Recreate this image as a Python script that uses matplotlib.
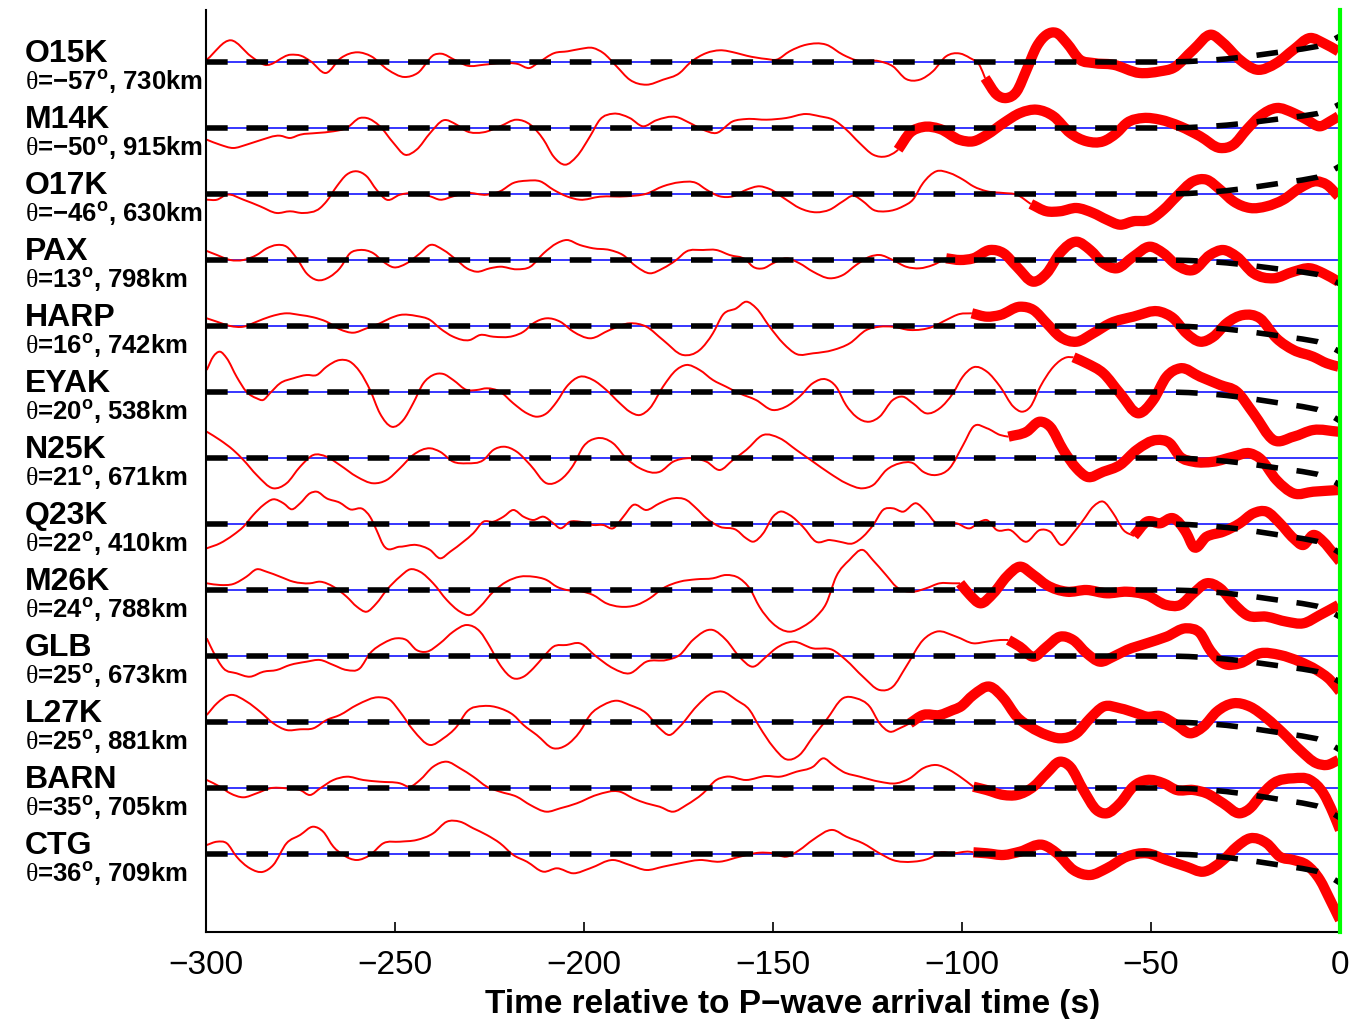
import numpy as np
import matplotlib
matplotlib.use("Agg")
import matplotlib.pyplot as plt
from matplotlib.path import Path
from matplotlib.patches import PathPatch

plt.rcParams['font.family'] = ['Liberation Sans', 'DejaVu Sans']
plt.rcParams['mathtext.fontset'] = 'custom'
plt.rcParams['mathtext.rm'] = 'Liberation Serif'
plt.rcParams['mathtext.bf'] = 'Liberation Sans:bold'
plt.rcParams['lines.scale_dashes'] = False

stations = ['O15K', 'M14K', 'O17K', 'PAX', 'HARP', 'EYAK', 'N25K',
            'Q23K', 'M26K', 'GLB', 'L27K', 'BARN', 'CTG']
theta = [-57, -50, -46, 13, 16, 20, 21, 22, 24, 25, 25, 35, 36]
dist_km = [730, 915, 630, 798, 742, 538, 671, 410, 788, 673, 881, 705, 709]

# time (s) where the thick (window) part of each trace begins
thick_start = [-93.9, -116.9, -81.8, -104.2, -97.4, -70.5, -87.7,
               -54.5, -100.5, -87.7, -113.8, -97.0, -97.0]

# synthetic (dashed) curve: common shape and end value per station
model_t = [-300, -45, -40, -35, -30, -25, -20, -15, -10, -6, -3, 0]
model_shape = [0, 0, 0.02, 0.06, 0.12, 0.2, 0.3, 0.4, 0.5, 0.6, 0.76, 1.0]
model_end = [26, 24, 28, -24, -26, -29, -27, -29, -27, -26, -28, -30, -29]

# waveforms: time (s) and amplitude (arbitrary units)
O15K_t = [-299.8, -293.4, -288.1, -284.6, -277.6, -274.9, -272.3, -268.3, -264.3, -259.9,
          -256.3, -251.9, -247.5, -244.0, -239.6, -237.8, -234.3, -230.8, -226.4, -221.9,
          -217.5, -214.4, -212.2, -207.8, -204.3, -201.1, -197.6, -194.9, -191.4, -187.9,
          -183.5, -179.1, -174.7, -172.0, -167.6, -164.1, -159.7, -157.0, -151.7, -149.1,
          -145.6, -141.2, -135.9, -131.5, -128.0, -121.8, -118.3, -114.8, -111.2, -107.7,
          -104.2, -100.6, -97.9, -95.2, -93.9, -90.8, -88.2, -85.5, -82.9, -80.2,
          -77.6, -75.0, -72.3, -68.8, -65.3, -60.0, -53.0, -47.6, -44.1, -38.8,
          -34.0, -30.9, -26.5, -22.0, -16.8, -12.3, -7.9, -4.4, -0.4]
O15K_a = [2.3, 21.7, 5.7, -2.7, 7.3, 6.3, 0.7, -11, 4, 9.7,
          5.7, -7.7, -15, -11, 7.3, 8.3, 2.3, -3.7, -2.7, -1,
          -2, -6, -1, 9, 10.7, 13, 14, 9, -4.3, -17.7,
          -22.7, -17.7, -11, -1, 9, 11.7, 9, 6.3, 3, 2.3,
          10.7, 17.3, 17.3, 7.3, 1.7, 0.7, -4.3, -17, -17.7, -9.3,
          5.7, 8.5, 4, -4.3, -16, -32.7, -36, -29.3, -7.7, 15.7,
          27.3, 29, 19, 2.3, -1, -2.7, -11, -9.3, -6, 12.3,
          27.3, 19, 2.3, -7.7, -1, 12.3, 24, 19, 10.7]

M14K_t = [-299.8, -296.3, -292.8, -289.3, -285.7, -280.4, -277.8, -275.1, -270.7, -266.3,
          -262.8, -259.3, -257.5, -254.0, -250.4, -247.4, -244.3, -240.7, -237.2, -233.7,
          -231.0, -226.6, -222.2, -217.8, -214.2, -210.7, -208.1, -205.0, -201.9, -198.4,
          -195.8, -192.3, -187.9, -184.4, -180.9, -175.6, -172.0, -168.5, -165.0, -160.6,
          -157.0, -151.7, -146.5, -141.2, -137.6, -134.1, -130.6, -127.1, -123.5, -120.0,
          -117.4, -116.9, -113.8, -110.3, -105.8, -100.5, -97.0, -93.4, -89.0, -84.6,
          -80.2, -75.8, -71.4, -67.0, -62.6, -59.1, -56.4, -52.0, -47.6, -42.3,
          -37.0, -31.7, -28.2, -24.7, -21.2, -16.8, -12.3, -8.8, -5.3, -2.6, -0.4]
M14K_a = [-11.7, -16.7, -20, -16.7, -12.3, -7.7, -10, -6.7, -5, -3.3,
          0, 10, 10, 1.7, -15, -26.7, -21.7, -5, 7.7, 3.3,
          -3.3, -4.3, 1.7, 8.3, 3.3, -11.7, -28.3, -36.7, -28.3, -8.3,
          8.3, 14.3, 10, 1.7, 7.7, 11, 5, -1.7, -5, 6.7,
          9, 8.3, 10, 14, 11.7, 8.3, -1.7, -15, -26.7, -28.3,
          -23.3, -21.7, -5, 1, -1, -12, -13.3, -6.7, 5, 15,
          18.3, 11.7, -5, -13.3, -13.3, -5, 5, 10, 8.3, 1.7,
          -8.3, -20, -16.7, -1.7, 11.7, 20, 15, 8.3, 1.7, 6.7, 11.7]

O17K_t = [-299.8, -297.1, -294.5, -290.1, -285.7, -281.3, -277.8, -274.3, -269.8, -268.1,
          -265.4, -262.8, -260.1, -257.5, -254.9, -252.2, -248.7, -245.2, -240.7, -238.1,
          -234.6, -231.0, -225.7, -222.2, -218.7, -215.1, -211.6, -208.1, -204.6, -201.1,
          -195.8, -188.8, -183.5, -179.1, -174.7, -170.3, -167.6, -164.1, -160.6, -157.0,
          -153.5, -150.9, -146.5, -143.0, -138.5, -135.0, -131.5, -128.8, -126.2, -123.5,
          -120.0, -115.6, -113.0, -110.3, -106.8, -103.3, -99.7, -97.0, -93.4, -89.0,
          -85.5, -81.8, -77.6, -74.1, -69.7, -65.3, -61.7, -58.2, -54.7, -50.3,
          -46.7, -43.2, -38.8, -35.3, -31.7, -28.2, -23.8, -19.4, -15.0, -10.6,
          -6.2, -3.5, -0.4]
O17K_a = [-5.7, -5.7, -0.7, -5.7, -12.3, -19, -17.3, -19, -14, -7.3,
          7.7, 19.3, 22.7, 17.7, 4.3, -5.7, -0.7, 1, -2.3, -5.7,
          -2.3, 1, -0.7, 2.7, 11, 13.3, 12.7, 4.3, -2.3, -5.7,
          -2.7, -2.3, 0.3, 7.7, 11.7, 11, 4.3, -2.3, -2.3, 4.3,
          7.7, 5, -5.7, -14, -18.3, -15.7, -7.3, -1.7, -7.3, -15.7,
          -17.3, -12.3, -5.7, 11, 22.7, 21, 14.3, 7.7, 2.7, 1,
          -0.7, -10, -17.3, -17.3, -14, -19, -25.7, -30.7, -27.3, -25.7,
          -15.7, -2.3, 12.7, 14.3, 4.3, -7.3, -14, -12.3, -5.7, 6,
          12.7, 9.3, -2.3]

PAX_t = [-299.8, -297.1, -293.6, -290.1, -286.6, -283.9, -281.3, -278.7, -276.0, -273.4,
         -270.7, -267.2, -264.6, -261.9, -259.3, -255.7, -253.1, -250.4, -246.9, -243.4,
         -240.7, -237.2, -233.7, -231.0, -228.4, -224.9, -222.2, -217.8, -214.2, -210.7,
         -207.2, -204.6, -201.1, -197.6, -193.2, -189.7, -186.1, -182.6, -179.1, -175.6,
         -173.0, -168.5, -165.0, -161.5, -157.1, -155.3, -152.6, -150.0, -146.5, -143.0,
         -139.4, -135.0, -131.5, -128.0, -124.4, -121.8, -118.3, -114.8, -111.2, -107.7,
         -104.2, -100.5, -97.0, -92.6, -89.0, -85.5, -81.1, -77.6, -74.1, -69.7,
         -66.1, -62.6, -59.1, -54.7, -50.3, -46.7, -43.2, -38.8, -34.4, -30.9,
         -27.3, -22.9, -17.6, -12.3, -7.9, -4.4, -0.4]
PAX_a = [9, 5, 0, 0, 5, 11.7, 15, 13.3, 1.7, -13.3,
         -20, -16.7, -8.3, 6.7, 10, 6.7, -1.7, -7.3, -3.3, 6.7,
         15, 10, 0, -8.3, -11.7, -8.3, -6.7, -9.3, -6.7, 6.7,
         16.7, 20, 15, 11.7, 10, 5, -6.7, -13.3, -8.3, 0,
         8.3, 10, 10, 5, 0, -6.7, -8.3, -3.3, 1.7, -3.3,
         -11.7, -18.3, -15, -5, 3.3, 5, 0, -6.7, -8.3, -5,
         1.7, 0, 1.7, 10, 6.7, -6.7, -21.7, -13.3, 6.7, 18.3,
         10, -3.3, -8.3, 3.3, 13.3, 6.7, -5, -10, 5, 10,
         3.3, -13.3, -18.3, -11.7, -8.3, -13.3, -21.7]

HARP_t = [-299.8, -297.1, -293.6, -290.1, -286.6, -283.1, -278.7, -275.1, -271.6, -268.1,
          -264.6, -261.0, -257.5, -254.0, -251.3, -248.7, -244.3, -240.7, -238.1, -234.6,
          -230.2, -227.5, -224.0, -218.7, -216.0, -213.4, -209.9, -206.3, -202.8, -198.4,
          -193.2, -187.9, -183.5, -179.1, -173.8, -169.4, -165.9, -163.3, -159.7, -157.1,
          -154.4, -150.9, -147.3, -143.8, -139.4, -134.1, -129.7, -125.3, -121.8, -118.3,
          -113.8, -107.7, -104.2, -100.6, -97.4, -93.4, -89.9, -84.6, -81.1, -77.6,
          -74.1, -69.7, -65.3, -60.8, -54.7, -47.6, -44.1, -40.6, -37.0, -33.5,
          -30.0, -25.6, -21.2, -16.8, -12.3, -7.1, -3.5, -0.4]
HARP_a = [7.7, 4.3, 0, -0.7, 4.3, 9.3, 12.7, 11, 8.7, 4.3,
          -3.3, -6.7, -2.3, 2.7, 7.7, 11, 10, 6, -2.3, -10.7,
          -14, -9, -10.7, -10, -5.7, 2.7, 7.7, 4.3, -5.7, -12.3,
          -4, 2.7, -0.7, -14, -29, -24, -7.3, 11, 17.7, 24.3,
          17.7, -0.7, -17.3, -28, -27.3, -24, -17.3, -4, -0.7, -0.7,
          -4, -0.7, 6, 12, 12.7, 9.3, 11, 19.3, 16, 2.7,
          -10.7, -15.7, -7.3, 2.7, 9.3, 14.3, 7.7, -7.3, -15.7, -10.7,
          2.7, 11, 7.7, -12.3, -24, -30.7, -37.3, -40.7]

EYAK_t = [-299.8, -298.1, -296.3, -294.5, -291.9, -289.3, -286.6, -284.9, -283.1, -280.4,
          -276.9, -273.4, -270.7, -268.1, -264.6, -261.9, -259.3, -256.6, -254.0, -250.9,
          -247.8, -245.2, -242.5, -239.9, -237.2, -234.6, -231.0, -228.4, -225.7, -222.2,
          -218.7, -215.1, -212.5, -209.9, -207.2, -204.6, -201.1, -197.6, -194.1, -190.5,
          -187.9, -185.2, -182.6, -179.1, -175.6, -173.0, -169.4, -165.9, -162.4, -158.9,
          -154.5, -150.1, -146.6, -143.0, -139.5, -136.0, -133.3, -130.7, -128.0, -124.5,
          -121.8, -118.3, -115.6, -113.0, -109.5, -105.9, -102.4, -99.8, -97.0, -93.4,
          -89.9, -86.4, -84.1, -81.9, -79.3, -75.8, -72.3, -70.5, -67.0, -62.6,
          -58.2, -53.3, -49.4, -45.9, -42.3, -37.0, -31.7, -27.3, -22.9, -17.6,
          -12.3, -7.1, -0.4]
EYAK_a = [22, 35.3, 40.3, 33.7, 15.3, 0.3, -6.3, -8, -1.3, 8.7,
          13.7, 17, 17, 25.3, 32, 30.3, 20.3, 2, -21.3, -34.7,
          -28, -11.3, 8.7, 17, 18, 12, 2, 2, 3.7, 0.3,
          -11.3, -21.3, -24.7, -21.3, -9.7, 5.3, 15.3, 12, 2, -11.3,
          -19.7, -23, -16.3, 5.3, 22, 27, 22, 12, 5.3, -1.3,
          -8, -18, -14.7, -4.7, 8.7, 12.7, 5.3, -13, -24.7, -29.7,
          -24.7, -8, -4.7, -11.3, -21.3, -16.3, -1.3, 15.3, 24.7, 20.3,
          5.3, -14.7, -19.7, -14.7, 5.3, 25.3, 34.7, 34.7, 28.7, 18.7,
          -1.3, -21.3, -8, 15.3, 23.7, 15.3, 7, 0.3, -21.3, -48,
          -44.7, -38, -39.7]

N25K_t = [-299.8, -296.3, -292.8, -290.1, -286.6, -282.2, -278.7, -275.1, -271.6, -268.1,
          -264.6, -260.1, -255.7, -252.2, -248.7, -245.2, -240.7, -238.1, -234.6, -231.0,
          -226.6, -224.0, -221.3, -217.8, -214.2, -209.9, -206.3, -202.8, -200.2, -196.7,
          -192.3, -188.8, -185.2, -179.9, -176.4, -172.9, -167.6, -164.1, -160.6, -157.1,
          -152.6, -148.2, -143.8, -139.4, -135.0, -130.6, -126.2, -123.5, -120.0, -116.4,
          -112.9, -110.3, -106.8, -103.3, -99.7, -97.0, -93.4, -89.9, -87.7, -82.9,
          -79.4, -76.7, -73.2, -69.7, -67.0, -62.6, -58.2, -53.8, -48.5, -45.0,
          -42.3, -38.8, -33.5, -28.2, -23.8, -21.2, -16.8, -12.3, -7.1, -0.4]
N25K_a = [26.3, 18, 8, -2, -17, -30.3, -25.3, -8.7, 3, 1.3,
          -7, -18.7, -25.3, -22, -10.3, 3, 9.7, 6.3, -3.7, -5.3,
          -2, 8, 11.3, 6.3, -7, -25.3, -22, -7, 11.3, 19.7,
          14.7, -0.3, -10.3, -13.7, -3.7, -0.3, -3.7, -12, -2, 8,
          23, 19.7, 8, -3.7, -15.3, -25.3, -30.3, -27, -12, -5.3,
          -5.3, -13.7, -17, -10.3, 13, 31.3, 29.7, 23, 21.3, 26.3,
          36.3, 31.3, 8, -10.3, -18.7, -13.7, -7, 8, 18, 14.7,
          1.3, -3.7, -3.7, 1.3, 4.7, -0.3, -22, -35.3, -33.7, -32]

Q23K_t = [-299.8, -296.3, -292.8, -290.1, -287.5, -284.8, -282.2, -279.5, -277.3, -275.1,
          -272.5, -270.7, -268.1, -264.6, -261.9, -258.4, -256.6, -254.9, -253.1, -248.7,
          -244.3, -240.7, -238.1, -235.4, -231.9, -229.3, -226.6, -224.0, -221.3, -218.7,
          -216.0, -213.4, -210.7, -208.1, -206.3, -203.7, -201.1, -197.6, -194.9, -192.3,
          -189.6, -187.0, -183.5, -180.0, -176.4, -172.9, -170.3, -167.6, -164.1, -159.7,
          -157.1, -155.3, -152.6, -150.0, -148.2, -145.6, -142.1, -138.6, -135.0, -132.4,
          -128.8, -126.2, -123.5, -120.9, -118.3, -115.6, -112.1, -109.5, -106.8, -104.2,
          -101.5, -97.9, -95.2, -93.5, -90.8, -87.3, -82.9, -79.4, -76.7, -73.7,
          -70.6, -67.9, -65.3, -62.6, -60.0, -57.3, -54.5, -51.1, -47.6, -44.1,
          -40.6, -38.8, -35.3, -30.9, -26.5, -22.9, -19.4, -15.9, -12.3, -9.7,
          -7.1, -4.4, -1.8, 0.0]
Q23K_a = [-24.3, -19.3, -11, -2.7, 9, 19, 24.7, 20.7, 14.7, 20.7,
          30.7, 32.3, 25.7, 21.3, 14.7, 14.7, 7.3, -6, -21, -22.7,
          -21, -26, -34.3, -27.7, -17.7, -9.3, 2.3, 2.3, 7.3, 14,
          7.3, 4, 7.3, 0.7, -4.3, 2.3, 2.3, -1, -1, -4.3,
          7.3, 19, 14, 20.7, 25.7, 24, 15.7, 5.7, -2.7, -6,
          -14.3, -17.7, -9.3, 7.3, 12.3, 9, -2.7, -17.7, -16, -17.7,
          -19.3, -12.7, -1, 14, 15.7, 12.3, 20.7, 12.3, 0.7, 0.7,
          0.7, -4.3, 2.3, 4, -6, -6, -17.7, -6, -7.7, -21,
          -9.3, 4, 17.3, 22.3, 10.7, -6, -12, 2.3, 0.7, 5.7,
          -9.3, -22.7, -12.7, -7.7, 0.7, 10.7, 12.3, 0.7, -14.3, -21,
          -11, -17.7, -29.3, -37.7]

M26K_t = [-299.8, -296.3, -292.8, -289.3, -286.6, -284.0, -280.4, -276.9, -272.5, -269.8,
          -266.3, -262.8, -260.1, -257.5, -254.9, -252.2, -248.7, -246.0, -243.4, -239.9,
          -236.3, -232.8, -230.2, -227.5, -224.0, -220.5, -217.0, -213.4, -209.9, -207.2,
          -204.6, -201.1, -197.6, -194.1, -190.5, -186.1, -182.6, -179.1, -174.7, -170.3,
          -165.9, -162.4, -158.9, -156.2, -153.6, -150.1, -145.6, -142.1, -138.6, -135.9,
          -133.3, -129.8, -126.2, -123.6, -120.1, -117.4, -113.0, -109.5, -105.9, -102.4,
          -100.5, -97.9, -95.2, -91.7, -88.2, -84.7, -81.1, -77.6, -72.3, -67.0,
          -61.7, -56.4, -51.1, -45.9, -42.3, -38.8, -35.3, -31.7, -28.2, -24.7,
          -19.4, -14.1, -9.7, -5.3, -0.4]
M26K_a = [6.7, 5, 6, 13.3, 20.7, 18.3, 13.3, 8.3, 6.7, 8.3,
          3.3, -6.7, -16.7, -21.7, -13.3, 0, 13.3, 20.7, 18.3, 6.7,
          -10, -21.7, -25, -16.7, -1.7, 8.3, 13.3, 13.3, 10, 3.3,
          0, -1, -5, -13.3, -16.7, -15, -8.3, 1.7, 8.3, 10.7,
          11.7, 15, 11.7, 1.7, -16.7, -33.3, -41.7, -36.7, -26.7, -13.3,
          13.3, 30, 40, 30, 15, 3.3, -1.7, 1.7, 6.7, 6.7,
          6.7, -5, -13.3, -3.3, 13.3, 23.3, 15, 5, -1.7, 0,
          -3.3, -1.7, -5, -15, -15, -3.3, 6.7, 1.7, -13.3, -25,
          -26.7, -31.7, -33.3, -25, -15]

GLB_t = [-299.8, -298.1, -295.4, -291.9, -288.4, -284.8, -281.3, -277.8, -273.4, -269.8,
         -266.3, -262.8, -259.3, -256.6, -253.1, -249.6, -247.0, -244.3, -241.6, -238.1,
         -234.6, -231.0, -227.5, -224.9, -222.2, -218.7, -216.0, -213.4, -210.7, -208.1,
         -204.6, -201.1, -196.7, -192.3, -187.9, -183.5, -178.2, -174.7, -171.2, -165.9,
         -162.4, -158.9, -155.4, -151.8, -149.2, -144.8, -139.5, -134.2, -130.7, -126.2,
         -121.8, -118.3, -114.8, -110.3, -106.8, -101.5, -97.0, -93.5, -89.9, -87.7,
         -84.7, -81.1, -77.6, -74.1, -70.6, -67.0, -63.5, -60.0, -56.4, -51.1,
         -45.9, -40.6, -37.0, -34.4, -30.9, -26.5, -21.2, -15.9, -10.6, -6.2,
         -2.6, 0.0]
GLB_a = [17.7, 4.3, -12.3, -17.3, -20.7, -15.7, -14, -9, -5.7, -4,
         -9, -14, -12.3, 2.7, 12.7, 17.7, 16, 6, 4.3, 12.7,
         24.3, 31, 24.3, 9.3, -9, -22.3, -20.7, -12.3, -0.7, 9.3,
         11, 12.7, -0.7, -12.3, -17.3, -5.7, -4, 1, 16, 26,
         16, -0.7, -10.7, -0.7, 7.7, 14.3, 7.7, 6, -4, -20.7,
         -34, -30.7, -10.7, 16, 24.3, 19.3, 12.7, 14.3, 16, 16,
         9.3, -0.7, 9.3, 19.3, 16, 2.7, -5.7, -0.7, 6, 12.7,
         19.3, 27.7, 22.7, 6, -7.3, -7.3, 2.7, 1, -5.7, -14,
         -24, -35.7]

L27K_t = [-299.8, -297.1, -293.6, -289.2, -285.7, -282.2, -278.7, -275.1, -271.6, -268.1,
          -264.6, -260.1, -254.0, -251.3, -248.7, -245.2, -240.7, -237.2, -233.7, -231.0,
          -226.6, -222.2, -218.7, -216.0, -212.5, -208.1, -204.6, -201.1, -198.4, -194.9,
          -191.4, -187.9, -183.5, -180.0, -177.4, -174.7, -170.3, -165.9, -163.3, -159.7,
          -156.2, -153.6, -150.0, -146.5, -143.0, -139.4, -135.9, -131.5, -128.0, -124.4,
          -121.8, -119.1, -116.5, -113.8, -110.3, -105.9, -102.4, -100.5, -97.0, -92.6,
          -89.0, -85.5, -82.0, -77.6, -74.1, -69.7, -66.1, -62.6, -58.2, -53.8,
          -51.1, -47.6, -43.2, -39.7, -36.2, -32.6, -28.2, -23.8, -19.4, -15.0,
          -10.6, -6.2, -3.5, -0.4]
L27K_a = [7, 18.7, 27, 20.3, 10.3, -1.3, -8, -7.3, -6.3, 2,
          7, 17, 24.7, 22, 10.3, -8, -23, -16.3, -4.7, 10.3,
          16, 13.7, 7, -3, -13, -26.3, -23, -9.7, 7, 17,
          21.3, 17, 8.7, -6.3, -13, -4.7, 15.3, 29.3, 30.3, 22,
          12, -4.7, -24.7, -37.3, -33, -14.7, 2, 23.7, 23.7, 15.3,
          -1.3, -9.7, -6.3, -1.3, 7, 7, 12, 15, 27, 35.3,
          23.7, 5.3, -4.7, -13, -16.3, -11.3, 3.7, 15.3, 13.7, 8.7,
          5.3, 6, -3, -11.3, -4.7, 10.3, 18.7, 15.3, 3.7, -11.3,
          -28, -41.3, -43, -38]

BARN_t = [-299.8, -296.3, -293.6, -290.1, -286.6, -283.1, -278.7, -275.1, -272.5, -269.8,
          -266.3, -262.8, -258.4, -254.0, -248.7, -246.0, -243.4, -239.9, -236.3, -232.8,
          -229.3, -225.7, -222.2, -217.8, -214.2, -209.9, -206.3, -201.9, -196.7, -190.5,
          -187.0, -183.5, -180.0, -176.4, -172.9, -168.5, -165.0, -162.4, -157.1, -151.8,
          -148.2, -143.8, -139.4, -136.7, -134.1, -131.5, -127.0, -121.8, -117.4, -113.8,
          -110.3, -106.8, -103.3, -100.5, -97.0, -93.5, -89.0, -85.5, -81.1, -77.6,
          -74.1, -71.4, -67.9, -64.4, -61.7, -58.2, -54.7, -51.1, -46.7, -43.2,
          -38.8, -35.3, -30.9, -26.5, -23.8, -21.2, -17.6, -12.3, -7.9, -4.4,
          -1.8, 0.0]
BARN_a = [8, 1.3, -5.3, -9.3, -5.3, -0.3, -0.3, -2, -7, -0.3,
          8, 11.3, 8, 6.3, 4.7, 1.3, 8, 21.3, 26.3, 19.7,
          11.3, 1.3, -3.7, -8.7, -17, -23.7, -20.3, -15.3, -7, -3.7,
          -10.3, -15.3, -18.7, -23.7, -17, -5.3, 8, 11.3, 8, 12,
          11.3, 16.3, 21.3, 29.7, 23, 16.3, 11.3, 6.3, 4.7, 9.7,
          19.7, 23, 18, 11.3, 1.3, -2, -7, -7, 1.3, 14.7,
          26.3, 21.3, -2, -22, -25.3, -15.3, 1.3, 8, 4.7, -2,
          -2, -5.3, -15.3, -25.3, -20.3, -8.7, 4.7, 9.7, 8, -5.3,
          -25.3, -42]

CTG_t = [-299.8, -297.1, -294.5, -291.9, -288.4, -284.8, -282.2, -278.7, -275.1, -271.6,
         -269.0, -266.3, -263.7, -260.1, -256.6, -253.1, -248.7, -244.3, -239.9, -236.3,
         -232.8, -229.3, -225.7, -222.2, -218.7, -215.1, -210.7, -207.2, -202.8, -198.4,
         -192.3, -187.9, -183.5, -179.1, -174.7, -169.4, -164.1, -158.8, -153.6, -150.0,
         -146.5, -143.0, -139.5, -134.1, -130.6, -126.2, -121.8, -118.3, -113.0, -108.6,
         -105.9, -102.4, -98.0, -97.0, -93.5, -89.0, -84.7, -78.5, -74.9, -70.5,
         -66.1, -61.7, -56.4, -51.1, -45.9, -40.6, -36.2, -30.9, -27.3, -23.8,
         -19.4, -15.9, -12.3, -8.8, -5.3, -2.6, 0.0]
CTG_a = [9, 12.3, 10.7, -2.7, -14.3, -17.7, -11, 10.7, 19, 27.3,
         22.3, 7.3, -1, -6, -1, 10.7, 12.3, 14, 20.7, 32.3,
         32.3, 25.7, 19, 10.7, -1, -7.7, -17.7, -14.3, -19.3, -14.3,
         -6, -11, -16, -12.7, -9.3, -6, -7.7, -2.7, 1.3, 0.7,
         -2.7, 4, 14, 24, 17.3, 10.7, 0.7, -6, -7.7, -4.3,
         1.3, 0.7, 2.3, 1.7, 0.7, -1, 2.3, 9, 0.7, -16,
         -21, -14.3, -2.7, 0.7, -6, -12.7, -17.7, -6, 7.3, 15.7,
         10.7, -2.7, -6, -11, -26, -46, -66]

trace_t = [O15K_t, M14K_t, O17K_t, PAX_t, HARP_t, EYAK_t, N25K_t,
           Q23K_t, M26K_t, GLB_t, L27K_t, BARN_t, CTG_t]
trace_a = [O15K_a, M14K_a, O17K_a, PAX_a, HARP_a, EYAK_a, N25K_a,
           Q23K_a, M26K_a, GLB_a, L27K_a, BARN_a, CTG_a]

gain = 1 / 66.0   # amplitude units per trace spacing
n = len(stations)


def smooth_path(x, y):
    # cubic Hermite curve through the read points (drawing only)
    m = np.gradient(y, x)
    verts = [(x[0], y[0])]
    codes = [Path.MOVETO]
    for k in range(len(x) - 1):
        h = x[k + 1] - x[k]
        verts += [(x[k] + h / 3, y[k] + m[k] * h / 3),
                  (x[k + 1] - h / 3, y[k + 1] - m[k + 1] * h / 3),
                  (x[k + 1], y[k + 1])]
        codes += [Path.CURVE4] * 3
    return Path(verts, codes)


fig = plt.figure(figsize=(13.7, 10.19), dpi=100)
ax = fig.add_axes([206 / 1370, 87 / 1019, 1134 / 1370, 922 / 1019])

mt = np.array(model_t, dtype=float)
ms = np.array(model_shape)
for i, name in enumerate(stations):
    y0 = n - i
    t = np.array(trace_t[i], dtype=float)
    a = y0 + np.array(trace_a[i]) * gain
    ax.plot([-300, 0], [y0, y0], color='#0000ff', lw=1.1, zorder=1)
    thin = t <= thick_start[i]
    thick = t >= thick_start[i]
    ax.add_patch(PathPatch(smooth_path(t[thin], a[thin]), fill=False,
                           edgecolor='#ff0000', lw=1.4, zorder=2))
    ax.add_patch(PathPatch(smooth_path(t[thick], a[thick]), fill=False,
                           edgecolor='#ff0000', lw=7.4, zorder=3,
                           joinstyle='round', capstyle='butt'))
    ax.plot(mt, y0 + ms * model_end[i] * gain, color='black', lw=4.0,
            ls=(0, (15.6, 13.5)), dash_capstyle='butt', zorder=4)

    th = f"{theta[i]}".replace('-', '\u2212')
    ax.text(-0.1596, y0, name, transform=ax.get_yaxis_transform(),
            fontsize=23, fontweight='bold', va='baseline', ha='left', clip_on=False)
    ax.text(-0.1596, y0 - 28 / 66,
            r"$\mathrm{\theta}$" + f"={th}" + r"$^{\mathbf{o}}$" + f", {dist_km[i]}km",
            transform=ax.get_yaxis_transform(), fontsize=18.5, fontweight='bold',
            va='baseline', ha='left', clip_on=False)

ax.axvline(0, color='#00ff00', lw=3, zorder=5, clip_on=False)

ax.set_xlim(-300, 0)
ax.set_ylim(1 - 78 / 66, n + 52 / 66)
ax.set_xticks(np.arange(-300, 1, 50))
ax.set_yticks([])
ax.tick_params(axis='x', direction='in', length=7, width=1.2, labelsize=24, pad=13)
for s in ['top', 'right']:
    ax.spines[s].set_visible(False)
for s in ['left', 'bottom']:
    ax.spines[s].set_linewidth(1.5)
ax.set_xlabel('Time relative to P\u2212wave arrival time (s)', fontsize=24, fontweight='bold')
ax.xaxis.set_label_coords(0.5176, -0.062)

fig.savefig('out.png', dpi=100)
